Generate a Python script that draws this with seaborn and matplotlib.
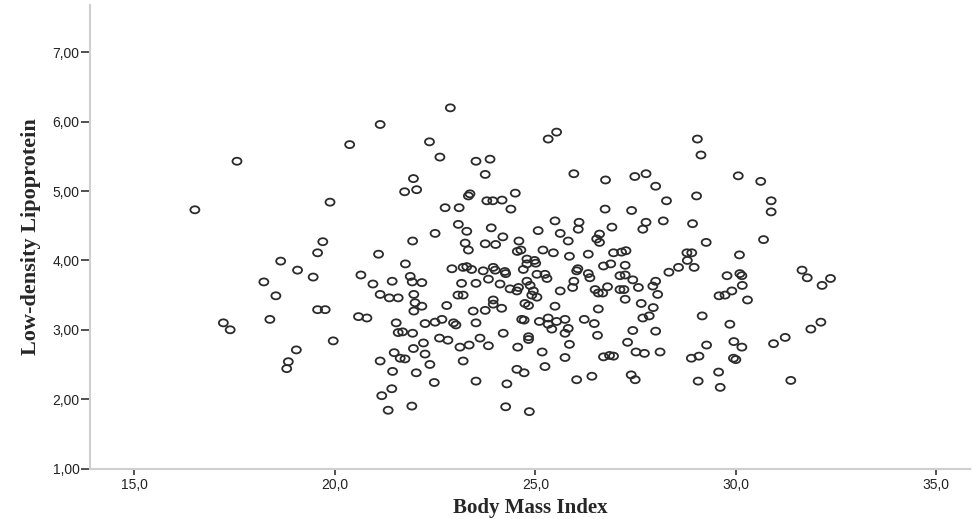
import pandas as pd
import matplotlib.pyplot as plt
import seaborn as sns
from matplotlib.ticker import FuncFormatter
from matplotlib.path import Path
from matplotlib.transforms import Affine2D

# Значения (ИМТ и ЛПНП)
bmi = [
    21.13, 20.37, 17.56, 19.88,
    22.88, 22.36, 22.62, 23.52, 23.87, 23.75, 25.53, 25.32, 25.96, 26.75,
    21.96, 21.74, 22.04, 23.37, 23.33, 24.50, 23.79, 23.94, 24.17,
    29.04, 29.13, 27.48, 27.76, 28.00, 28.27, 29.02, 30.06, 30.62, 30.88,
    27.40, 27.76, 28.19, 27.68, 28.92, 30.88, 30.69, 29.26, 28.78, 28.90,
    28.79, 28.57, 28.96, 28.33, 30.09, 29.78, 30.10, 30.15, 30.16, 29.90,
    29.58, 29.73, 30.29, 31.65, 31.78, 32.36, 32.15, 27.26, 27.15, 27.24,
    27.24, 27.11, 27.43, 27.21, 27.11, 27.57, 27.93, 28.00, 28.05, 27.24,
    27.64, 27.94, 27.68, 27.84, 29.16,
    29.85, 27.43, 28.00, 27.30, 27.51, 27.72, 28.11, 28.89, 29.08, 29.27,
    29.95, 30.15, 29.94, 30.00, 30.94, 31.23, 31.87, 32.12, 27.39, 27.49,
    29.06, 29.57, 29.61, 31.37,
    22.75, 23.10, 24.39, 26.74, 25.49, 26.09, 26.07, 26.60, 26.53, 26.60,
    26.91, 23.08, 23.29, 23.90, 24.19, 22.50, 21.94, 23.25, 23.33, 23.75,
    24.01, 24.59, 25.07, 25.62, 25.82, 24.55, 24.64, 25.19, 25.45, 25.85,
    26.32, 26.95, 21.76, 24.79, 24.98, 24.79, 25.01, 22.92, 23.20, 23.29,
    23.41, 23.70, 23.95, 24.00, 24.26, 24.24, 24.70, 25.04, 25.24, 25.29,
    26.06, 26.03, 26.32, 26.36, 26.70, 26.88, 21.88, 21.93, 22.17, 23.16,
    23.52, 23.83, 24.12, 24.37, 24.54, 24.58, 24.79, 24.87, 24.95, 24.91,
    25.62, 25.93, 25.96, 26.49, 26.57, 26.68, 26.80, 21.97, 22.00, 22.17,
    21.97, 23.07, 23.20, 22.79, 23.45, 23.75, 23.95, 23.95, 24.16, 24.74,
    24.83, 25.04, 25.49, 26.57,
    21.69, 21.94, 22.25, 22.50, 22.67, 22.96, 23.02, 23.52, 24.66, 24.72,
    25.10, 25.32, 25.32, 25.53, 25.74, 25.41, 25.82, 25.74, 26.22, 26.47,
    26.55, 24.20, 24.83, 24.83, 22.21, 21.96, 22.61, 22.82, 23.12, 23.35,
    23.62, 23.83, 24.56, 25.17, 25.85, 21.75, 22.25, 23.20, 22.37, 25.74,
    26.70, 26.85, 26.95, 24.54, 24.72, 25.24, 22.03, 22.48, 23.52, 24.29,
    26.03, 26.41, 21.92, 24.26, 24.85,
    17.22, 17.39, 18.38, 20.59, 20.80, 21.53, 21.58, 19.96, 19.04, 18.84,
    18.80, 21.13, 21.48, 21.63, 21.44, 21.42, 21.17, 21.33,
    16.51, 19.70, 19.57, 18.65, 19.07, 19.46, 18.23, 18.53, 19.57, 19.76,
    21.09, 20.65, 20.95, 21.43, 21.13, 21.36, 21.58,
]
ldl = [
    5.96, 5.67, 5.43, 4.84,
    6.20, 5.71, 5.49, 5.43, 5.46, 5.24, 5.85, 5.75, 5.25, 5.16,
    5.18, 4.99, 5.02, 4.96, 4.93, 4.97, 4.86, 4.86, 4.87,
    5.75, 5.52, 5.21, 5.25, 5.07, 4.86, 4.93, 5.22, 5.14, 4.86,
    4.72, 4.55, 4.57, 4.45, 4.53, 4.70, 4.30, 4.26, 4.11, 4.11,
    4.00, 3.90, 3.90, 3.83, 4.08, 3.78, 3.81, 3.78, 3.64, 3.56,
    3.49, 3.50, 3.43, 3.86, 3.75, 3.74, 3.64, 4.14, 4.12, 3.93,
    3.79, 3.78, 3.72, 3.58, 3.58, 3.61, 3.63, 3.70, 3.51, 3.44,
    3.38, 3.32, 3.17, 3.20, 3.20,
    3.08, 2.99, 2.98, 2.82, 2.68, 2.66, 2.68, 2.59, 2.62, 2.78,
    2.83, 2.75, 2.59, 2.57, 2.80, 2.89, 3.01, 3.11, 2.35, 2.28,
    2.26, 2.39, 2.17, 2.27,
    4.76, 4.76, 4.74, 4.74, 4.57, 4.55, 4.45, 4.38, 4.31, 4.26,
    4.48, 4.52, 4.42, 4.47, 4.34, 4.39, 4.28, 4.25, 4.15, 4.24,
    4.23, 4.28, 4.43, 4.39, 4.28, 4.13, 4.15, 4.15, 4.11, 4.06,
    4.09, 4.11, 3.95, 4.02, 4.00, 3.95, 3.96, 3.88, 3.90, 3.91,
    3.87, 3.85, 3.90, 3.86, 3.81, 3.84, 3.87, 3.80, 3.80, 3.74,
    3.88, 3.85, 3.81, 3.75, 3.92, 3.95, 3.77, 3.69, 3.68, 3.67,
    3.67, 3.73, 3.66, 3.59, 3.56, 3.61, 3.70, 3.64, 3.56, 3.50,
    3.56, 3.61, 3.70, 3.58, 3.53, 3.53, 3.62, 3.51, 3.39, 3.34,
    3.27, 3.50, 3.50, 3.35, 3.27, 3.28, 3.43, 3.37, 3.31, 3.38,
    3.35, 3.47, 3.34, 3.30,
    2.97, 2.95, 3.09, 3.11, 3.15, 3.10, 3.07, 3.10, 3.15, 3.14,
    3.12, 3.17, 3.08, 3.12, 3.15, 3.01, 3.02, 2.95, 3.15, 3.09,
    2.92, 2.95, 2.90, 2.86, 2.81, 2.73, 2.88, 2.85, 2.75, 2.78,
    2.88, 2.77, 2.75, 2.68, 2.79, 2.58, 2.65, 2.55, 2.50, 2.60,
    2.61, 2.63, 2.62, 2.43, 2.38, 2.47, 2.38, 2.24, 2.26, 2.22,
    2.28, 2.33, 1.90, 1.89, 1.82,
    3.10, 3.00, 3.15, 3.19, 3.17, 3.10, 2.96, 2.84, 2.71, 2.54,
    2.44, 2.55, 2.67, 2.59, 2.40, 2.15, 2.05, 1.84,
    4.73, 4.27, 4.11, 3.99, 3.86, 3.76, 3.69, 3.49, 3.29, 3.29,
    4.09, 3.79, 3.66, 3.70, 3.51, 3.46, 3.46,
]

x_ticks = [15, 20, 25, 30, 35]
y_ticks = [1, 2, 3, 4, 5, 6, 7]

df = pd.DataFrame({'Body Mass Index': bmi, 'Low-density Lipoprotein': ldl})

sns.set_style("white")
plt.rcParams['font.family'] = ['Liberation Sans', 'DejaVu Sans']

# маркер - слегка вытянутый по горизонтали кружок, как в оригинале
circle = Path.unit_circle()
ellipse = Path(Affine2D().scale(1.0, 0.78).transform(circle.vertices), circle.codes)

fig = plt.figure(figsize=(9.72, 5.19), dpi=100)
ax = fig.add_axes([0.0926, 0.0973, 0.9054, 0.8927])

sns.scatterplot(data=df, x='Body Mass Index', y='Low-density Lipoprotein', ax=ax,
                marker=ellipse, s=42, facecolor='none', edgecolor='#2b2b2b', linewidth=1.3)

ax.set_xlim(13.895, 35.84)
ax.set_ylim(1.0, 7.68)
ax.set_xticks(x_ticks)
ax.set_yticks(y_ticks)
ax.xaxis.set_major_formatter(FuncFormatter(lambda v, p: f'{v:.1f}'.replace('.', ',')))
ax.yaxis.set_major_formatter(FuncFormatter(lambda v, p: f'{v:.2f}'.replace('.', ',')))

for side in ['top', 'right']:
    ax.spines[side].set_visible(False)
for side in ['left', 'bottom']:
    ax.spines[side].set_color('#cfcfcf')
    ax.spines[side].set_linewidth(1.5)

ax.tick_params(axis='y', direction='out', length=6.5, width=1.2, color='#333333',
               labelsize=10, labelcolor='#222222', pad=1, left=True)
ax.tick_params(axis='x', direction='out', length=4, width=1.2, color='#333333',
               labelsize=10, labelcolor='#222222', pad=3, bottom=True)

ax.set_xlabel('Body Mass Index', fontfamily='Liberation Serif', fontweight='bold',
              fontsize=15, labelpad=4)
ax.set_ylabel('Low-density Lipoprotein', fontfamily='Liberation Serif', fontweight='bold',
              fontsize=16, labelpad=8)

fig.savefig('out.png', dpi=100)
